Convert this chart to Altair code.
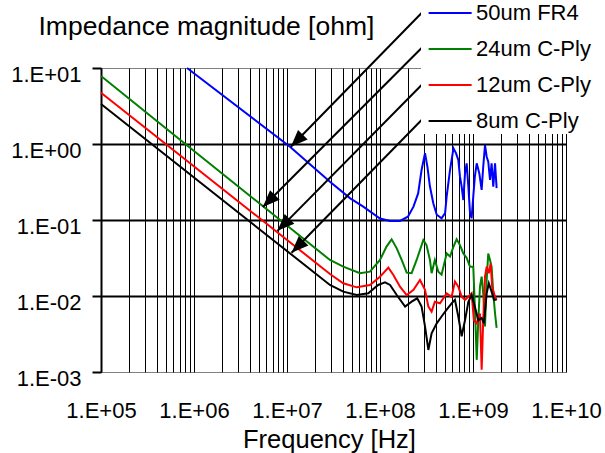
import altair as alt
import pandas as pd

FONT = "Liberation Sans"

series_names = ["50um FR4", "24um C-Ply", "12um C-Ply", "8um C-Ply"]
series_colors = ["#0000FF", "#008000", "#FF0000", "#000000"]

# values, as log10(frequency [Hz]) and log10(|Z| [ohm])
fr4_logf = [5.925, 7.032, 7.462, 7.68, 7.82, 8.0, 8.108, 8.215, 8.30, 8.36, 8.41, 8.447, 8.484,
            8.51, 8.537, 8.573, 8.61, 8.662, 8.70, 8.717, 8.753, 8.79, 8.817, 8.842, 8.86, 8.878,
            8.896, 8.914, 8.932, 8.95, 8.968, 8.985, 9.003, 9.02, 9.04, 9.068, 9.093, 9.11, 9.129,
            9.147, 9.164, 9.183, 9.20, 9.218, 9.237, 9.254]
fr4_logz = [1.0, -0.035, -0.496, -0.715, -0.825, -0.98, -1.013, -1.013, -0.956, -0.825, -0.65, -0.342,
            -0.12, -0.30, -0.56, -0.78, -0.93, -0.978, -0.91, -0.69, -0.342, -0.057, -0.12, -0.21, -0.43,
            -0.56, -0.737, -0.386, -0.254, -0.56, -0.91, -0.978, -0.69, -0.43, -0.254, -0.386, -0.605,
            -0.30, -0.013, -0.167, -0.233, -0.474, -0.254, -0.56, -0.254, -0.58]

c24_logf = [5.0, 5.92, 7.462, 7.605, 7.785, 7.892, 8.0, 8.07, 8.125, 8.18, 8.233, 8.287, 8.34, 8.394,
            8.466, 8.50, 8.537, 8.555, 8.59, 8.627, 8.662, 8.717, 8.753, 8.79, 8.824, 8.86, 8.896,
            8.932, 8.968, 9.003, 9.02, 9.04, 9.057, 9.075, 9.093, 9.11, 9.129, 9.147, 9.164, 9.183,
            9.20, 9.218, 9.237, 9.254]
c24_logz = [0.895, -0.013, -1.526, -1.614, -1.70, -1.68, -1.526, -1.35, -1.254, -1.373, -1.526, -1.693,
            -1.70, -1.526, -1.263, -1.33, -1.526, -1.70, -1.526, -1.68, -1.72, -1.44, -1.48, -1.35, -1.254,
            -1.33, -1.44, -1.50, -1.614, -1.614, -2.14, -2.84, -2.32, -1.877, -1.746, -1.965, -2.40,
            -1.79, -1.44, -1.526, -1.614, -1.965, -2.23, -2.42]

c12_logf = [5.0, 7.462, 7.605, 7.75, 7.892, 8.0, 8.09, 8.144, 8.215, 8.287, 8.36, 8.43, 8.484, 8.52,
            8.555, 8.59, 8.645, 8.717, 8.77, 8.806, 8.842, 8.878, 8.914, 8.95, 8.985, 9.01, 9.04,
            9.075, 9.093, 9.11, 9.129, 9.147, 9.17, 9.19, 9.206, 9.237, 9.254]
c12_logz = [0.675, -1.71, -1.833, -1.886, -1.855, -1.746, -1.627, -1.724, -1.877, -1.987, -1.92, -1.79,
            -1.92, -2.14, -2.206, -2.075, -2.096, -1.965, -2.01, -1.81, -1.877, -2.01, -2.05, -2.01,
            -1.965, -2.32, -2.36, -2.23, -2.97, -2.32, -1.746, -1.614, -1.70, -1.57, -1.877, -2.01, -2.05]

c8_logf = [5.0, 7.462, 7.605, 7.75, 7.874, 7.98, 8.054, 8.108, 8.18, 8.27, 8.34, 8.40, 8.447, 8.484,
           8.52, 8.555, 8.61, 8.662, 8.717, 8.77, 8.806, 8.842, 8.878, 8.914, 8.95, 8.985, 9.02,
           9.057, 9.093, 9.118, 9.147, 9.17, 9.20, 9.226, 9.254]
c8_logz = [0.526, -1.855, -1.943, -1.987, -1.965, -1.855, -1.82, -1.855, -1.987, -2.14, -2.075, -2.03,
           -2.14, -2.40, -2.71, -2.49, -2.36, -2.27, -2.18, -2.096, -2.05, -2.27, -2.53, -2.32, -2.075,
           -1.987, -2.14, -2.32, -2.29, -2.36, -1.965, -1.833, -1.943, -2.05, -2.05]

# arrows from the legend entries to the curves (start and tip)
arrow_start_f = [2.8e8, 2.8e8, 2.8e8, 2.8e8]
arrow_start_z = [52.9, 18.3, 5.98, 2.07]
arrow_end_f = [1.10e7, 5.5e6, 7.9e6, 1.12e7]
arrow_end_z = [0.92, 0.148, 0.072, 0.037]

x_grid_values = [k * 10 ** n for n in range(5, 10) for k in range(1, 10)] + [1e10]
y_tick_values = [1e-3, 1e-2, 1e-1, 1e0, 1e1]

rows = []
for name, lf, lz in [(series_names[0], fr4_logf, fr4_logz), (series_names[1], c24_logf, c24_logz),
                     (series_names[2], c12_logf, c12_logz), (series_names[3], c8_logf, c8_logz)]:
    for i, (a, b) in enumerate(zip(lf, lz)):
        rows.append({"series": name, "freq": 10 ** a, "z": 10 ** b, "i": i})
df = pd.DataFrame(rows)

arrow_df = pd.DataFrame({"f0": arrow_start_f, "z0": arrow_start_z, "f1": arrow_end_f, "z1": arrow_end_z})

xscale = alt.Scale(type="log", domain=[1e5, 1e10], nice=False)
yscale = alt.Scale(type="log", domain=[1e-3, 1e1], nice=False)

LOG = "(log(datum.value)/LN10)"
xaxis = alt.Axis(
    values=x_grid_values,
    labelExpr=f"abs({LOG} - round({LOG})) < 0.001 ? '1.E+' + (round({LOG}) < 10 ? '0' : '') + round({LOG}) : ''",
    labelOverlap=False, labelFlush=False, labelBound=False,
    ticks=False, tickSize=0, domain=False,
    grid=True, gridColor="#000000", gridWidth=1,
    labelFont=FONT, labelFontSize=22, labelColor="#000000", labelPadding=28,
    title="Frequency [Hz]", titleFont=FONT, titleFontSize=25.5, titleFontWeight="normal",
    titleColor="#000000", titleBaseline="alphabetic", titleY=75, titleX=228, titleAlign="center",
)
yaxis = alt.Axis(
    values=y_tick_values,
    labelExpr=f"'1.E' + (round({LOG}) < 0 ? '-' : '+') + '0' + abs(round({LOG}))",
    labelOverlap=False, labelFlush=False, labelBound=False,
    ticks=True, tickSize=9, tickWidth=2, tickColor="#000000",
    domain=True, domainColor="#000000", domainWidth=2,
    grid=True, gridColor="#000000", gridWidth=2,
    gridOpacity={"condition": {"test": "datum.value > 5 || datum.value < 0.002", "value": 0}, "value": 1},
    labelFont=FONT, labelFontSize=22, labelColor="#000000", labelPadding=11, labelOffset=6,
    title="Impedance magnitude [ohm]", titleFont=FONT, titleFontSize=26.5, titleFontWeight="normal",
    titleColor="#000000", titleAngle=0, titleAlign="left", titleBaseline="alphabetic",
    titleX=-63, titleY=-34,
)

legend = alt.Legend(
    orient="none", legendX=320, legendY=-68, title=None,
    fillColor="white", padding=2, rowPadding=14,
    symbolType="M-1,0H7", symbolSize=115.6, symbolStrokeWidth=2,
    labelFont=FONT, labelFontSize=22, labelColor="#000000", labelOffset=31,
    labelExpr="(datum.value == '8um C-Ply' || datum.label == '8um C-Ply') ? '\u00a0' + datum.label : datum.label",
)

lines = alt.Chart(df).mark_line(strokeWidth=2).encode(
    x=alt.X("freq:Q", scale=xscale, axis=xaxis),
    y=alt.Y("z:Q", scale=yscale, axis=yaxis),
    color=alt.Color("series:N", scale=alt.Scale(domain=series_names, range=series_colors), legend=legend),
    order=alt.Order("i:Q"),
)

shafts = alt.Chart(arrow_df).mark_rule(color="#000000", strokeWidth=2).encode(
    x=alt.X("f0:Q", scale=xscale, axis=xaxis),
    y=alt.Y("z0:Q", scale=yscale, axis=yaxis),
    x2="f1:Q", y2="z1:Q",
)

heads = alt.Chart(arrow_df).mark_point(
    shape="M0,0L0.8,2L-0.8,2Z", filled=True, color="#000000", opacity=1,
    size=289, angle=225, strokeWidth=0,
).encode(
    x=alt.X("f1:Q", scale=xscale, axis=xaxis),
    y=alt.Y("z1:Q", scale=yscale, axis=yaxis),
)

chart = alt.layer(lines, shafts, heads).properties(
    width=465, height=304,
    autosize=alt.AutoSizeParams(type="none"),
    padding={"left": 101, "top": 68, "right": 39, "bottom": 81},
    background="white",
).configure_view(stroke="#808080", strokeWidth=1)

chart.save("out.html", embed_options={"renderer": "svg", "actions": False})
